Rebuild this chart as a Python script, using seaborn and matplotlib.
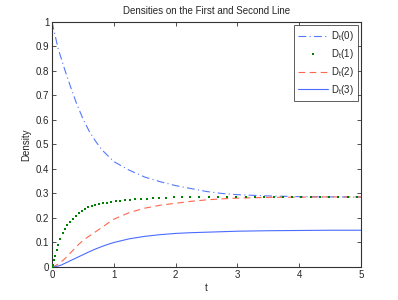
import numpy as np
import pandas as pd
import matplotlib
matplotlib.use("Agg")
import matplotlib.pyplot as plt
from matplotlib.lines import Line2D
import seaborn as sns

# values
t = [0, 0.05, 0.1, 0.15, 0.2, 0.3, 0.4, 0.5, 0.6, 0.7, 0.8, 0.9, 1.0,
     1.25, 1.5, 1.75, 2.0, 2.25, 2.5, 2.75, 3.0, 3.5, 4.0, 4.5, 5.0]
d0 = [1.0, 0.945, 0.89, 0.85, 0.81, 0.735, 0.665, 0.605, 0.555, 0.515, 0.48, 0.455, 0.43,
      0.395, 0.367, 0.348, 0.332, 0.32, 0.308, 0.30, 0.295, 0.29, 0.287, 0.286, 0.285]
d2 = [0, 0.005, 0.012, 0.021, 0.032, 0.058, 0.085, 0.108, 0.126, 0.143, 0.16, 0.178, 0.195,
      0.222, 0.24, 0.252, 0.26, 0.268, 0.274, 0.278, 0.281, 0.284, 0.285, 0.286, 0.286]
d3 = [0, 0.001, 0.004, 0.008, 0.014, 0.026, 0.038, 0.05, 0.062, 0.073, 0.083, 0.092, 0.10,
      0.115, 0.125, 0.132, 0.137, 0.140, 0.142, 0.144, 0.146, 0.148, 0.149, 0.15, 0.15]

# D_t(1) is drawn as dots at the solver steps, which are uneven in t
t1 = [0, 0.01, 0.03, 0.05, 0.076, 0.1, 0.135, 0.17, 0.21, 0.25, 0.29, 0.335, 0.38,
      0.43, 0.48, 0.53, 0.585, 0.64, 0.7, 0.76, 0.825, 0.89, 0.96, 1.03,
      1.1, 1.18, 1.26, 1.345, 1.435, 1.53, 1.63, 1.735, 1.85, 1.97, 2.1, 2.24, 2.385,
      2.535, 2.685, 2.835, 2.985, 3.135, 3.285, 3.435, 3.585, 3.735, 3.885, 4.035,
      4.185, 4.335, 4.485, 4.635, 4.785, 4.935]
d1 = [0, 0.009, 0.028, 0.045, 0.068, 0.088, 0.115, 0.137, 0.156, 0.172, 0.185, 0.197, 0.208,
      0.219, 0.228, 0.236, 0.243, 0.248, 0.253, 0.257, 0.261, 0.263, 0.266, 0.268,
      0.271, 0.273, 0.275, 0.277, 0.278, 0.279, 0.281, 0.282, 0.283, 0.284, 0.284, 0.285, 0.285,
      0.286, 0.286, 0.286, 0.286, 0.286, 0.286, 0.286, 0.286, 0.286, 0.286, 0.286,
      0.286, 0.286, 0.286, 0.286, 0.286, 0.286]

labels = [r'D$_t$(0)', r'D$_t$(1)', r'D$_t$(2)', r'D$_t$(3)']
xticks = [0, 1, 2, 3, 4, 5]
yticks = [0, 0.1, 0.2, 0.3, 0.4, 0.5, 0.6, 0.7, 0.8, 0.9, 1]
ytick_labels = ['0', '0.1', '0.2', '0.3', '0.4', '0.5', '0.6', '0.7', '0.8', '0.9', '1']

sns.set_style('white')
plt.rcParams['font.family'] = ['Liberation Sans', 'DejaVu Sans']
plt.rcParams['mathtext.fontset'] = 'custom'
plt.rcParams['mathtext.rm'] = 'Liberation Sans'
plt.rcParams['mathtext.it'] = 'Liberation Sans'

fig = plt.figure(figsize=(3.98, 3.0), dpi=100)
ax = fig.add_axes([0.1307, 0.11, 0.7764, 0.817])

colors = ['#5577ff', '#008000', '#ff6650', '#4a6cff']

# D_t(0): dash-dot
sns.lineplot(x=t, y=d0, ax=ax, color=colors[0], lw=0.8)
h0 = ax.get_lines()[-1]
h0.set_dashes((7, 3, 1, 3))

# D_t(1): dots
sns.scatterplot(x=t1, y=d1, ax=ax, color=colors[1], marker='s', s=2.6, linewidth=0, zorder=3)

# D_t(2): dashed
sns.lineplot(x=t, y=d2, ax=ax, color=colors[2], lw=0.8)
h2 = ax.get_lines()[-1]
h2.set_dashes((6, 4))

# D_t(3): solid
sns.lineplot(x=t, y=d3, ax=ax, color=colors[3], lw=0.8)
h3 = ax.get_lines()[-1]

h1 = Line2D([], [], ls='none', marker='s', ms=1.6, mew=0, color=colors[1])
handles = [h0, h1, h2, h3]

ax.set_xlim(0, 5)
ax.set_ylim(0, 1)
ax.set_xticks(xticks)
ax.set_xticklabels([str(x) for x in xticks])
ax.set_yticks(yticks)
ax.set_yticklabels(ytick_labels)
ax.tick_params(direction='in', length=3, width=0.6, labelsize=7, color='#333333',
               top=True, right=True, bottom=True, left=True, pad=2)
for s in ax.spines.values():
    s.set_color('#333333')
    s.set_linewidth(0.8)
ax.set_xlabel('t', fontsize=7, labelpad=2)
ax.set_ylabel('Density', fontsize=7, labelpad=3)
ax.set_title('Densities on the First and Second Line', fontsize=7, pad=6)

leg = ax.legend(handles, labels, loc='upper right', fontsize=7, frameon=True, fancybox=False,
                edgecolor='#333333', handlelength=3.1, borderpad=0.45, numpoints=1,
                labelspacing=0.4, handletextpad=0.3, borderaxespad=0.3)
leg.get_frame().set_linewidth(0.7)

fig.savefig('out.png', dpi=100)
